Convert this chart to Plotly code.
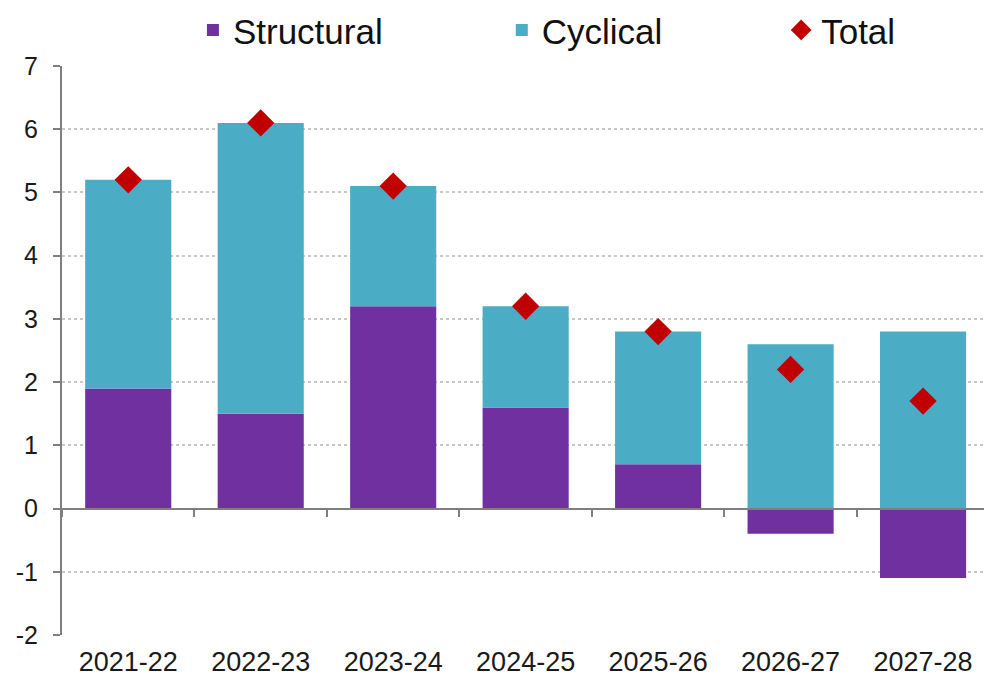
import plotly.graph_objects as go

# Fiscal years and the two components of the balance, with their total
years = ["2021-22", "2022-23", "2023-24", "2024-25", "2025-26", "2026-27", "2027-28"]
structural = [1.9, 1.5, 3.2, 1.6, 0.7, -0.4, -1.1]
cyclical = [3.3, 4.6, 1.9, 1.6, 2.1, 2.6, 2.8]
total = [5.2, 6.1, 5.1, 3.2, 2.8, 2.2, 1.7]

y_ticks = [-2, -1, 0, 1, 2, 3, 4, 5, 6, 7]
y_tick_text = [str(v) for v in y_ticks]

PURPLE = "#7030A0"
TEAL = "#4BACC6"
RED = "#C00000"
FONT = "Liberation Sans, Arial, sans-serif"

fig = go.Figure()
fig.add_trace(go.Bar(x=years, y=structural, name="Structural", legend="legend",
                     marker=dict(color=PURPLE, line=dict(width=0))))
fig.add_trace(go.Bar(x=years, y=cyclical, name="Cyclical", legend="legend2",
                     marker=dict(color=TEAL, line=dict(width=0))))
fig.add_trace(go.Scatter(x=years, y=total, name="Total", mode="markers",
                         xaxis="x2", legend="legend3",
                         marker=dict(symbol="diamond", size=21, color=RED,
                                     line=dict(width=0))))

x_range = [-0.5, 6.46]
y_range = [-2, 7]
zero_pos = (0 - y_range[0]) / (y_range[1] - y_range[0])

legend_font = dict(size=35, family=FONT, color="#111")


def legend_at(x):
    return dict(orientation="h", x=x, xanchor="left", y=1.063, yanchor="middle",
                font=legend_font, bgcolor="rgba(0,0,0,0)")


fig.update_layout(
    width=984, height=680,
    margin=dict(l=62, r=0, t=66, b=45, autoexpand=False),
    paper_bgcolor="white", plot_bgcolor="white",
    barmode="relative", bargap=0.35,
    font=dict(family=FONT, color="#1a1a1a"),
    showlegend=True,
    legend=legend_at(0.142),
    legend2=legend_at(0.477),
    legend3=legend_at(0.780),
    xaxis=dict(type="category", range=x_range, showgrid=False, showline=False,
               ticks="", tickfont=dict(size=27, family=FONT, color="#1a1a1a"),
               ticklabelstandoff=8, zeroline=False, automargin=False),
    xaxis2=dict(type="category", overlaying="x", matches="x", anchor="free",
                position=zero_pos, showline=True, linecolor="#7f7f7f", linewidth=2,
                ticks="outside", tickson="boundaries", ticklen=7, tickwidth=2,
                tickcolor="#7f7f7f", showticklabels=False, showgrid=False,
                automargin=False),
    yaxis=dict(range=y_range, tickvals=y_ticks, ticktext=y_tick_text,
               showgrid=True, gridcolor="#c8c8c8",
               griddash="dot", gridwidth=1.5, zeroline=False,
               showline=True, linecolor="#7f7f7f", linewidth=2,
               ticks="outside", ticklen=7, tickwidth=2, tickcolor="#7f7f7f",
               tickfont=dict(size=25, family=FONT, color="#1a1a1a"),
               ticklabelstandoff=10, automargin=False),
)

fig.write_html("out.html")
